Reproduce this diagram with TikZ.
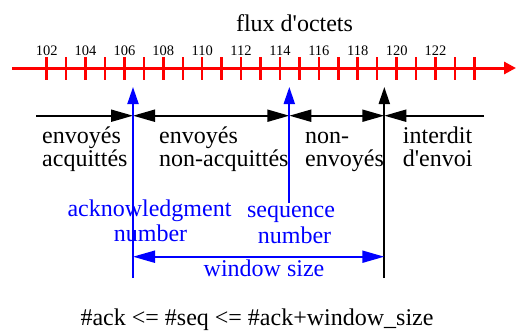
\documentclass[tikz,border=0pt]{standalone}
\usepackage{fontspec}
\setmainfont{Liberation Serif}
\usetikzlibrary{arrows.meta}
\tikzset{
  big/.style={font=\fontsize{24}{24}\selectfont, inner sep=0pt},
  num/.style={font=\fontsize{14.5}{14.5}\selectfont, inner sep=0pt, anchor=base},
  redline/.style={red, line width=3pt},
  tick/.style={red, line width=2.5pt},
  blk/.style={black, line width=2pt},
  blu/.style={blue, line width=2pt},
  headH/.style={-{Triangle[length=22pt,width=12pt]}},
  headHH/.style={{Triangle[length=22pt,width=12pt]}-{Triangle[length=22pt,width=12pt]}},
  headV/.style={-{Triangle[length=17pt,width=11pt]}},
}
\begin{document}
\begin{tikzpicture}[x=1pt,y=-1pt]
\useasboundingbox (0,0) rectangle (516,330);
% title
\node[big, anchor=base] (title) at (294.5,31.7) {flux d\textquotesingle octets};
% red axis
\coordinate (axL) at (12,68);
\coordinate (axR) at (516,68);
\draw[redline, -{Triangle[length=12pt,width=12pt]}] (axL) -- (axR);
\foreach \i in {0,...,22} {
  \coordinate (tt\i) at ({46.7+19.44*\i},57);
  \coordinate (tb\i) at ({46.7+19.44*\i},80);
  \draw[tick] (tt\i) -- (tb\i);
}
\foreach \i [evaluate=\i as \v using int(102+\i)] in {0,2,...,20} {
  \node[num] (n\i) at ({46.7+19.44*\i},55) {\v};
}
% coordinates
\coordinate (ackTop) at (133,87);
\coordinate (ackBot) at (133,278);
\coordinate (seqTop) at (289.3,87);
\coordinate (seqBot) at (289.3,203);
\coordinate (winTop) at (384.3,87);
\coordinate (winBot) at (384.3,278);
\coordinate (hL) at (36,115.7);
\coordinate (hA) at (133,115.7);
\coordinate (hS) at (289.3,115.7);
\coordinate (hW) at (384.3,115.7);
\coordinate (hR) at (484,115.7);
\coordinate (wA) at (133,256.7);
\coordinate (wW) at (384.3,256.7);
% black horizontal segments
\draw[blk, headH] (hL) -- (hA);
\draw[blk, headHH] (hA) -- (hS);
\draw[blk, headHH] (hS) -- (hW);
\draw[blk, headH] (hR) -- (hW);
% verticals
\draw[blu, headV] (ackBot) -- (ackTop);
\draw[blu, headV] (seqBot) -- (seqTop);
\draw[blk, headV] (winBot) -- (winTop);
% window size arrow
\draw[blu, headHH] (wA) -- (wW);
% black labels
\node[big, anchor=base west] (a1) at (42,143.3) {envoyés};
\node[big, anchor=base west] (a2) at (42,166.7) {acquittés};
\node[big, anchor=base west] (b1) at (159,143.3) {envoyés};
\node[big, anchor=base west] (b2) at (159,166.7) {non-acquittés};
\node[big, anchor=base west] (c1) at (305,143.3) {non-};
\node[big, anchor=base west] (c2) at (305,166.7) {envoyés};
\node[big, anchor=base west] (d1) at (402.7,143.3) {interdit};
\node[big, anchor=base west] (d2) at (402.7,166.7) {d\textquotesingle envoi};
% blue labels
\node[big, blue, anchor=base] (k1) at (149.5,216.7) {acknowledgment};
\node[big, blue, anchor=base] (k2) at (150.5,241.7) {number};
\node[big, blue, anchor=base] (s1) at (291,217) {sequence};
\node[big, blue, anchor=base] (s2) at (294.5,243) {number};
\node[big, blue, anchor=base] (ws) at (264,276) {window size};
% formula
\node[big, anchor=base] (f) at (257,325) {\#ack <= \#seq <= \#ack+window\_size};
\end{tikzpicture}
\end{document}
